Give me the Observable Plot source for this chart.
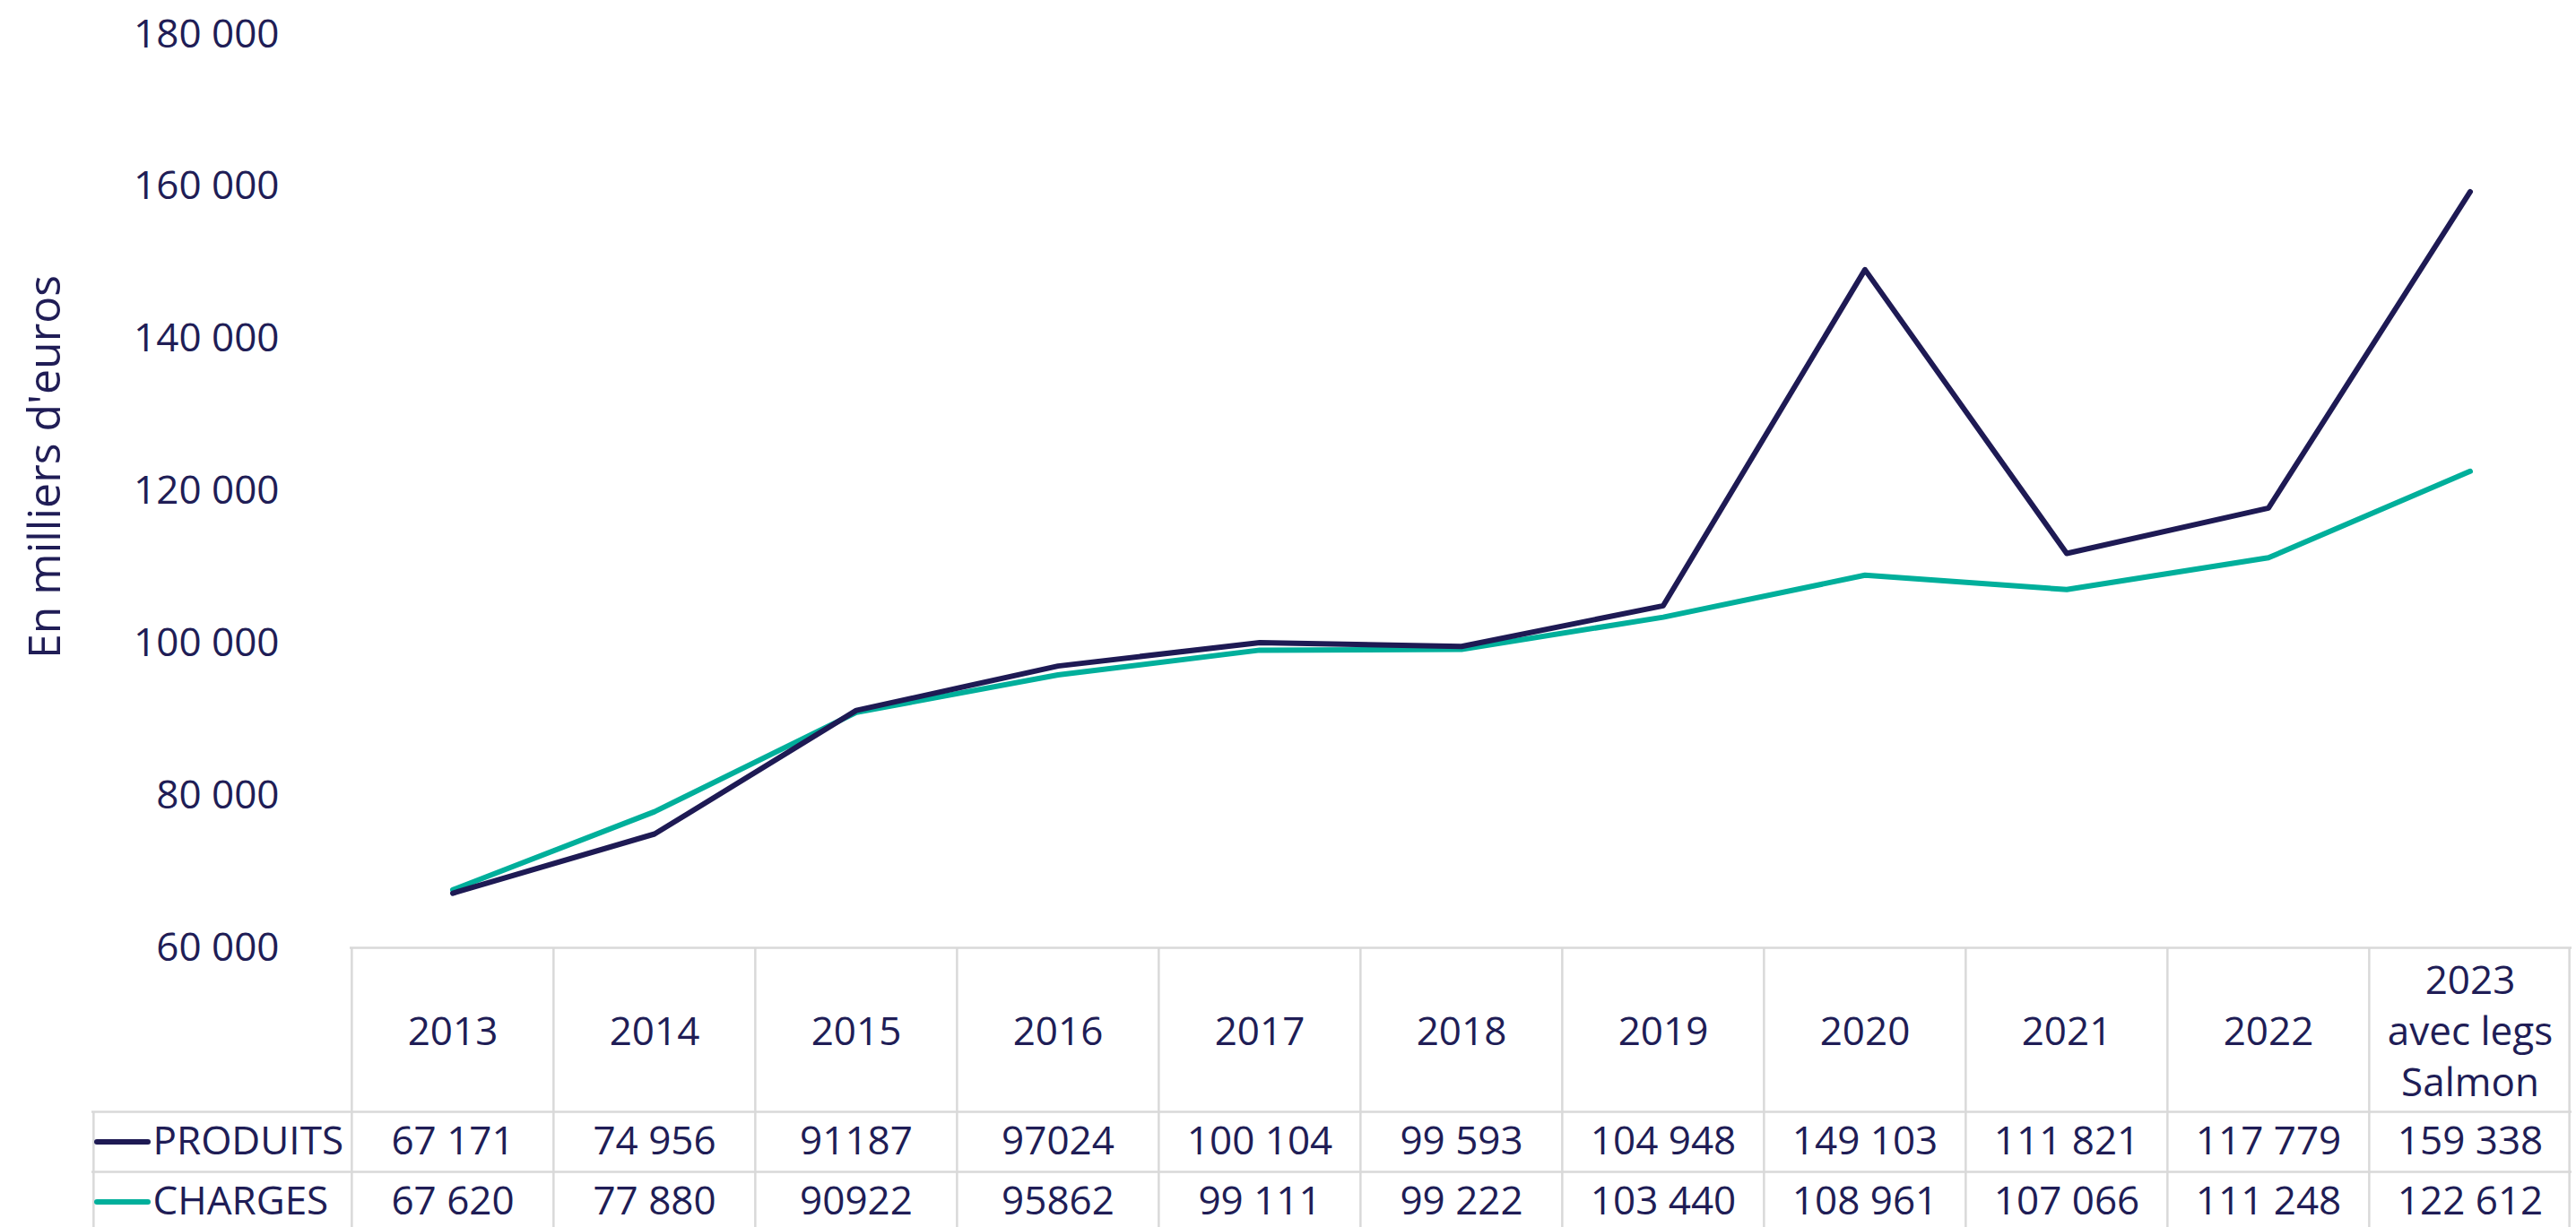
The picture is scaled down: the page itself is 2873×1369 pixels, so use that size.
<!DOCTYPE html>
<html>
<head>
<meta charset="utf-8">
<script src="https://cdn.jsdelivr.net/npm/d3@7"></script>
<script src="https://cdn.jsdelivr.net/npm/@observablehq/plot@0.6"></script>
<style>
  html, body { margin: 0; padding: 0; background: #ffffff; }
  #chart { width: 2873px; height: 1369px; }
</style>
</head>
<body>
<div id="chart"></div>
<script>
// ---- Data ----
const categories = ["2013", "2014", "2015", "2016", "2017", "2018", "2019", "2020", "2021", "2022", "2023\navec legs\nSalmon"];
const produits = [67171, 74956, 91187, 97024, 100104, 99593, 104948, 149103, 111821, 117779, 159338];
const charges = [67620, 77880, 90922, 95862, 99111, 99222, 103440, 108961, 107066, 111248, 122612];
const produitsLabels = ["67 171", "74 956", "91187", "97024", "100 104", "99 593", "104 948", "149 103", "111 821", "117 779", "159 338"];
const chargesLabels = ["67 620", "77 880", "90922", "95862", "99 111", "99 222", "103 440", "108 961", "107 066", "111 248", "122 612"];
const seriesNames = ["PRODUITS", "CHARGES"];
const yTicks = [60000, 80000, 100000, 120000, 140000, 160000, 180000];
const yLabel = "En milliers d'euros";

// ---- Styles / layout ----
const W = 2873, H = 1369;
const mTop = 38, mBottom = 312, mLeft = 390, mRight = 5;
const frameH = H - mTop - mBottom;
const bw = (W - mLeft - mRight) / categories.length;
const navy = "#1e1a54";
const teal = "#00af9b";
const textColor = "#201d56";
const gridColor = "#d9d9d9";
const fs = 44;
const headerH = 183, rowH = 67;
const tableLeft = 102;

const prodRows = categories.map((c, i) => ({cat: c, value: produits[i], label: produitsLabels[i]}));
const chargRows = categories.map((c, i) => ({cat: c, value: charges[i], label: chargesLabels[i]}));
const fmt = d => d3.format(",")(d).replace(/,/g, " ");

const plot = Plot.plot({
  width: W,
  height: H,
  marginTop: mTop,
  marginBottom: mBottom,
  marginLeft: mLeft,
  marginRight: mRight,
  style: {fontFamily: "'Open Sans', sans-serif", fontSize: fs + "px", color: textColor, background: "#ffffff"},
  x: {type: "band", domain: categories, padding: 0, axis: null},
  y: {domain: [60000, 180000], ticks: yTicks, tickFormat: fmt, tickSize: 0, tickPadding: 79, label: null},
  marks: [
    // table: vertical column borders
    Plot.ruleX(categories, {x: d => d, dx: -bw / 2, insetTop: frameH, insetBottom: -mBottom, stroke: gridColor, strokeWidth: 2.5}),
    Plot.ruleX([categories[categories.length - 1]], {x: d => d, dx: bw / 2 - 2, insetTop: frameH, insetBottom: -mBottom, stroke: gridColor, strokeWidth: 2.5}),
    Plot.ruleX([categories[0]], {x: d => d, dx: -bw / 2 - (mLeft - tableLeft), insetTop: frameH + headerH, insetBottom: -mBottom, stroke: gridColor, strokeWidth: 2.5}),
    // table: horizontal borders
    Plot.ruleY([60000], {stroke: gridColor, strokeWidth: 2.5}),
    Plot.ruleY([60000], {dy: headerH, insetLeft: -(mLeft - tableLeft), stroke: gridColor, strokeWidth: 2.5}),
    Plot.ruleY([60000], {dy: headerH + rowH, insetLeft: -(mLeft - tableLeft), stroke: gridColor, strokeWidth: 2.5}),
    // lines
    Plot.line(chargRows, {x: "cat", y: "value", stroke: teal, strokeWidth: 6, strokeLinecap: "round", strokeLinejoin: "round"}),
    Plot.line(prodRows, {x: "cat", y: "value", stroke: navy, strokeWidth: 6, strokeLinecap: "round", strokeLinejoin: "round"}),
    // y label
    Plot.text([yLabel], {frameAnchor: "left", textAnchor: "middle", lineAnchor: "middle", rotate: -90, dx: -340, dy: -27, fontSize: 50, fill: textColor}),
    // table header
    Plot.text(categories, {x: d => d, frameAnchor: "bottom", lineAnchor: "middle", dy: 90, fontSize: fs, lineHeight: 1.3, fill: textColor}),
    // table values
    Plot.text(prodRows, {x: "cat", text: "label", frameAnchor: "bottom", lineAnchor: "middle", dy: headerH + rowH / 2, fontSize: fs, fill: textColor}),
    Plot.text(chargRows, {x: "cat", text: "label", frameAnchor: "bottom", lineAnchor: "middle", dy: headerH + rowH * 1.5, fontSize: fs, fill: textColor}),
    // legend keys in table
    Plot.ruleY([60000], {dy: headerH + rowH / 2, insetLeft: -282, insetRight: (W - mRight) - 165, stroke: navy, strokeWidth: 6, strokeLinecap: "round"}),
    Plot.ruleY([60000], {dy: headerH + rowH * 1.5, insetLeft: -282, insetRight: (W - mRight) - 165, stroke: teal, strokeWidth: 6, strokeLinecap: "round"}),
    Plot.text([seriesNames[0]], {frameAnchor: "bottom-left", dx: -220, dy: headerH + rowH / 2, textAnchor: "start", lineAnchor: "middle", fontSize: fs, fill: textColor}),
    Plot.text([seriesNames[1]], {frameAnchor: "bottom-left", dx: -220, dy: headerH + rowH * 1.5, textAnchor: "start", lineAnchor: "middle", fontSize: fs, fill: textColor})
  ]
});
document.getElementById("chart").appendChild(plot);
</script>
</body>
</html>
